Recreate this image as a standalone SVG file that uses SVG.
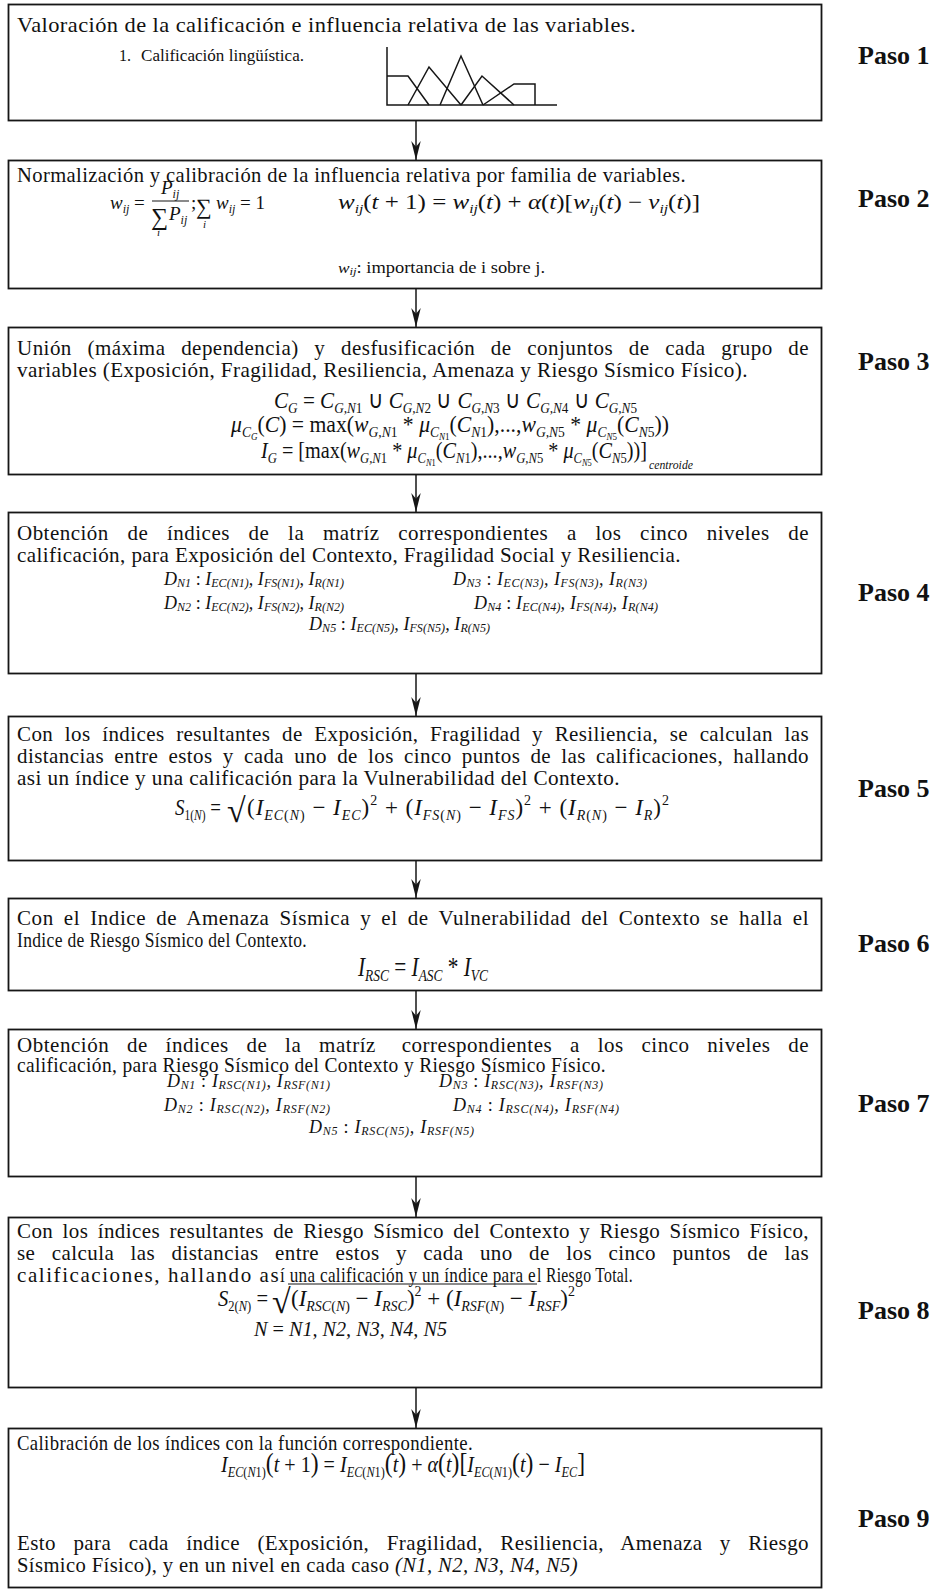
<svg xmlns="http://www.w3.org/2000/svg" width="937" height="1590" viewBox="0 0 937 1590">
<defs>
<style>
.box{fill:#fff;stroke:#161616;stroke-width:1.8}
.t{font-family:"Liberation Serif","Times New Roman",serif;font-size:21px;letter-spacing:0.4px;fill:#111}
.m{font-family:"Liberation Serif","Times New Roman",serif;font-style:italic;fill:#111}
.u{font-style:normal}
.paso{font-family:"Liberation Serif","Times New Roman",serif;font-weight:bold;font-size:26px;fill:#111}
.conn line{stroke:#161616;stroke-width:1.5}
.fig{fill:none;stroke:#161616;stroke-width:1.5}
.bar{stroke:#161616;stroke-width:1.2}
.sym{font-family:"Liberation Serif","Times New Roman",serif;fill:#111}
</style>
<marker id="ah" markerUnits="userSpaceOnUse" viewBox="0 0 20 10" refX="20" refY="5" markerWidth="19" markerHeight="10" orient="auto"><path d="M0,0 L20,5 L0,10 L6,5 Z" fill="#161616"/></marker>
</defs>
<rect width="937" height="1590" fill="#fff"/>

<g id="connectors" class="conn">
<line x1="416" y1="121" x2="416" y2="160" marker-end="url(#ah)"/>
<line x1="416" y1="289" x2="416" y2="327" marker-end="url(#ah)"/>
<line x1="416" y1="475" x2="416" y2="512" marker-end="url(#ah)"/>
<line x1="416" y1="674" x2="416" y2="716" marker-end="url(#ah)"/>
<line x1="416" y1="861" x2="416" y2="898" marker-end="url(#ah)"/>
<line x1="416" y1="991" x2="416" y2="1029" marker-end="url(#ah)"/>
<line x1="416" y1="1177" x2="416" y2="1217" marker-end="url(#ah)"/>
<line x1="416" y1="1388" x2="416" y2="1428" marker-end="url(#ah)"/>
</g>

<g id="paso1">
<rect class="box" x="8.5" y="4.5" width="813" height="116"/>
<text class="t" x="17" y="32" textLength="619" lengthAdjust="spacingAndGlyphs">Valoración de la calificación e influencia relativa de las variables.</text>
<text class="t" style="font-size:16px;letter-spacing:0" x="119" y="61">1.<tspan x="141" textLength="163" lengthAdjust="spacingAndGlyphs">Calificación lingüística.</tspan></text>
<g class="fig">
<polyline points="387,47 387,105 557,105"/>
<polyline points="387,76 408,76 429,105"/>
<polyline points="408,105 429,67 461,105"/>
<polyline points="440,105 461,56 483,105"/>
<polyline points="461,105 482,76 514,105"/>
<polyline points="483,105 514,84 535,84 535,105"/>
</g>
<text class="paso" x="858" y="64">Paso 1</text>
</g>

<g id="paso2">
<rect class="box" x="8.5" y="160.5" width="813" height="128"/>
<text class="t" x="17" y="182" textLength="669" lengthAdjust="spacingAndGlyphs">Normalización y calibración de la influencia relativa por familia de variables.</text>
<text class="m" font-size="19" x="110" y="209">w<tspan font-size="12" dy="4">ij</tspan><tspan class="u" dy="-4"> =</tspan></text>
<text class="m" font-size="19" x="161" y="194">P<tspan font-size="12" dy="4">ij</tspan></text>
<line class="bar" x1="152" y1="201" x2="189" y2="201"/>
<text class="sym" font-size="24" x="151" y="225">∑</text>
<text class="m" font-size="19" x="169" y="220">P<tspan font-size="12" dy="4">ij</tspan></text>
<text class="m" font-size="11" x="157" y="236">i</text>
<text class="sym" font-size="19" x="191" y="209">;</text>
<text class="sym" font-size="22" x="196" y="214">∑</text>
<text class="m" font-size="11" x="203" y="228">i</text>
<text class="m" font-size="19" x="216" y="209">w<tspan font-size="12" dy="4">ij</tspan><tspan class="u" dy="-4"> = 1</tspan></text>
<text class="m" x="338" y="209" font-size="21" textLength="362" lengthAdjust="spacingAndGlyphs">w<tspan font-size="13" dy="4">ij</tspan><tspan class="u" dy="-4">(</tspan>t<tspan class="u"> + 1) = </tspan>w<tspan font-size="13" dy="4">ij</tspan><tspan class="u" dy="-4">(</tspan>t<tspan class="u">) + </tspan>α<tspan class="u">(</tspan>t<tspan class="u">)[</tspan>w<tspan font-size="13" dy="4">ij</tspan><tspan class="u" dy="-4">(</tspan>t<tspan class="u">) − </tspan>v<tspan font-size="13" dy="4">ij</tspan><tspan class="u" dy="-4">(</tspan>t<tspan class="u">)]</tspan></text>
<text class="m" x="338" y="273" font-size="15" textLength="207" lengthAdjust="spacingAndGlyphs">w<tspan font-size="11" dy="2">ij</tspan><tspan class="u" font-size="16" dy="-2">: importancia de i sobre j.</tspan></text>
<text class="paso" x="858" y="207">Paso 2</text>
</g>

<g id="paso3">
<rect class="box" x="8.5" y="327.5" width="813" height="147"/>
<text class="t" x="17" y="355" textLength="792" lengthAdjust="spacing" word-spacing="10">Unión (máxima dependencia) y desfusificación de conjuntos de cada grupo de</text>
<text class="t" x="17" y="377" textLength="731" lengthAdjust="spacingAndGlyphs">variables (Exposición, Fragilidad, Resiliencia, Amenaza y Riesgo Sísmico Físico).</text>
<text class="m" x="274" y="408" font-size="24" textLength="363" lengthAdjust="spacingAndGlyphs">C<tspan font-size="15" dy="5">G</tspan><tspan class="u" dy="-5"> = </tspan>C<tspan font-size="15" dy="5">G,N</tspan><tspan font-size="15" class="u">1</tspan><tspan class="u" dy="-5"> ∪ </tspan>C<tspan font-size="15" dy="5">G,N</tspan><tspan font-size="15" class="u">2</tspan><tspan class="u" dy="-5"> ∪ </tspan>C<tspan font-size="15" dy="5">G,N</tspan><tspan font-size="15" class="u">3</tspan><tspan class="u" dy="-5"> ∪ </tspan>C<tspan font-size="15" dy="5">G,N</tspan><tspan font-size="15" class="u">4</tspan><tspan class="u" dy="-5"> ∪ </tspan>C<tspan font-size="15" dy="5">G,N</tspan><tspan font-size="15" class="u">5</tspan></text>
<text class="m" x="231" y="432" font-size="24" textLength="438" lengthAdjust="spacingAndGlyphs">μ<tspan font-size="15" dy="5">C</tspan><tspan font-size="10" dy="3">G</tspan><tspan class="u" dy="-8">(</tspan>C<tspan class="u">) = max(</tspan>w<tspan font-size="15" dy="5">G,N</tspan><tspan font-size="15" class="u">1</tspan><tspan class="u" dy="-5"> * </tspan>μ<tspan font-size="15" dy="5">C</tspan><tspan font-size="10" dy="3">N</tspan><tspan font-size="10" class="u">1</tspan><tspan class="u" dy="-8">(</tspan>C<tspan font-size="15" dy="5">N</tspan><tspan font-size="15" class="u">1</tspan><tspan class="u" dy="-5">),...,</tspan>w<tspan font-size="15" dy="5">G,N</tspan><tspan font-size="15" class="u">5</tspan><tspan class="u" dy="-5"> * </tspan>μ<tspan font-size="15" dy="5">C</tspan><tspan font-size="10" dy="3">N</tspan><tspan font-size="10" class="u">5</tspan><tspan class="u" dy="-8">(</tspan>C<tspan font-size="15" dy="5">N</tspan><tspan font-size="15" class="u">5</tspan><tspan class="u" dy="-5">))</tspan></text>
<text class="m" x="261" y="458" font-size="24" textLength="386" lengthAdjust="spacingAndGlyphs">I<tspan font-size="15" dy="5">G</tspan><tspan class="u" dy="-5"> = [max(</tspan>w<tspan font-size="15" dy="5">G,N</tspan><tspan font-size="15" class="u">1</tspan><tspan class="u" dy="-5"> * </tspan>μ<tspan font-size="15" dy="5">C</tspan><tspan font-size="10" dy="3">N</tspan><tspan font-size="10" class="u">1</tspan><tspan class="u" dy="-8">(</tspan>C<tspan font-size="15" dy="5">N</tspan><tspan font-size="15" class="u">1</tspan><tspan class="u" dy="-5">),...,</tspan>w<tspan font-size="15" dy="5">G,N</tspan><tspan font-size="15" class="u">5</tspan><tspan class="u" dy="-5"> * </tspan>μ<tspan font-size="15" dy="5">C</tspan><tspan font-size="10" dy="3">N</tspan><tspan font-size="10" class="u">5</tspan><tspan class="u" dy="-8">(</tspan>C<tspan font-size="15" dy="5">N</tspan><tspan font-size="15" class="u">5</tspan><tspan class="u" dy="-5">))]</tspan></text>
<text class="m" x="649" y="469" font-size="12" textLength="44" lengthAdjust="spacingAndGlyphs">centroide</text>
<text class="paso" x="858" y="370">Paso 3</text>
</g>

<g id="paso4">
<rect class="box" x="8.5" y="512.5" width="813" height="161"/>
<text class="t" x="17" y="540" textLength="792" lengthAdjust="spacing" word-spacing="13">Obtención de índices de la matríz correspondientes a los cinco niveles de</text>
<text class="t" x="17" y="562" textLength="664" lengthAdjust="spacingAndGlyphs">calificación, para Exposición del Contexto, Fragilidad Social y Resiliencia.</text>
<text class="m" x="164" y="585" font-size="18" textLength="180" lengthAdjust="spacing">D<tspan font-size="12" dy="2">N1</tspan><tspan class="u" dy="-2">  :  </tspan>I<tspan font-size="12" dy="2">EC(N1)</tspan><tspan dy="-2">, I</tspan><tspan font-size="12" dy="2">FS(N1)</tspan><tspan dy="-2">, I</tspan><tspan font-size="12" dy="2">R(N1)</tspan></text>
<text class="m" x="453" y="585" font-size="18" textLength="194" lengthAdjust="spacing">D<tspan font-size="12" dy="2">N3</tspan><tspan class="u" dy="-2">  :  </tspan>I<tspan font-size="12" dy="2">EC(N3)</tspan><tspan dy="-2">, I</tspan><tspan font-size="12" dy="2">FS(N3)</tspan><tspan dy="-2">, I</tspan><tspan font-size="12" dy="2">R(N3)</tspan></text>
<text class="m" x="164" y="609" font-size="18" textLength="180" lengthAdjust="spacing">D<tspan font-size="12" dy="2">N2</tspan><tspan class="u" dy="-2">  :  </tspan>I<tspan font-size="12" dy="2">EC(N2)</tspan><tspan dy="-2">, I</tspan><tspan font-size="12" dy="2">FS(N2)</tspan><tspan dy="-2">, I</tspan><tspan font-size="12" dy="2">R(N2)</tspan></text>
<text class="m" x="474" y="609" font-size="18" textLength="184" lengthAdjust="spacing">D<tspan font-size="12" dy="2">N4</tspan><tspan class="u" dy="-2">  :  </tspan>I<tspan font-size="12" dy="2">EC(N4)</tspan><tspan dy="-2">, I</tspan><tspan font-size="12" dy="2">FS(N4)</tspan><tspan dy="-2">, I</tspan><tspan font-size="12" dy="2">R(N4)</tspan></text>
<text class="m" x="309" y="630" font-size="18" textLength="181" lengthAdjust="spacing">D<tspan font-size="12" dy="2">N5</tspan><tspan class="u" dy="-2">  :  </tspan>I<tspan font-size="12" dy="2">EC(N5)</tspan><tspan dy="-2">, I</tspan><tspan font-size="12" dy="2">FS(N5)</tspan><tspan dy="-2">, I</tspan><tspan font-size="12" dy="2">R(N5)</tspan></text>
<text class="paso" x="858" y="601">Paso 4</text>
</g>

<g id="paso5">
<rect class="box" x="8.5" y="716.5" width="813" height="144"/>
<text class="t" x="17" y="741" textLength="792" lengthAdjust="spacing" word-spacing="6">Con los índices resultantes de Exposición, Fragilidad y Resiliencia, se calculan las</text>
<text class="t" x="17" y="763" textLength="792" lengthAdjust="spacing" word-spacing="4.5">distancias entre estos y cada uno de los cinco puntos de las calificaciones, hallando</text>
<text class="t" x="17" y="785" textLength="603" lengthAdjust="spacingAndGlyphs">asi un índice y una calificación para la Vulnerabilidad del Contexto.</text>
<text class="m" x="175" y="815" font-size="23" textLength="46" lengthAdjust="spacingAndGlyphs">S<tspan font-size="14" dy="5" class="u">1(</tspan><tspan font-size="14">N</tspan><tspan font-size="14" class="u">)</tspan><tspan class="u" dy="-5"> =</tspan></text>
<text class="sym" x="227" y="822" font-size="34">√</text>
<text class="m" x="247" y="815" font-size="23" textLength="422" lengthAdjust="spacing"><tspan class="u">(</tspan>I<tspan font-size="14" dy="5">EC</tspan><tspan font-size="14" class="u">(</tspan><tspan font-size="14">N</tspan><tspan font-size="14" class="u">)</tspan><tspan class="u" dy="-5"> − </tspan>I<tspan font-size="14" dy="5">EC</tspan><tspan class="u" dy="-5">)</tspan><tspan class="u" font-size="14" dy="-10">2</tspan><tspan class="u" dy="10"> + (</tspan>I<tspan font-size="14" dy="5">FS</tspan><tspan font-size="14" class="u">(</tspan><tspan font-size="14">N</tspan><tspan font-size="14" class="u">)</tspan><tspan class="u" dy="-5"> − </tspan>I<tspan font-size="14" dy="5">FS</tspan><tspan class="u" dy="-5">)</tspan><tspan class="u" font-size="14" dy="-10">2</tspan><tspan class="u" dy="10"> + (</tspan>I<tspan font-size="14" dy="5">R</tspan><tspan font-size="14" class="u">(</tspan><tspan font-size="14">N</tspan><tspan font-size="14" class="u">)</tspan><tspan class="u" dy="-5"> − </tspan>I<tspan font-size="14" dy="5">R</tspan><tspan class="u" dy="-5">)</tspan><tspan class="u" font-size="14" dy="-10">2</tspan></text>
<text class="paso" x="858" y="797">Paso 5</text>
</g>

<g id="paso6">
<rect class="box" x="8.5" y="898.5" width="813" height="92"/>
<text class="t" x="17" y="925" textLength="792" lengthAdjust="spacing" word-spacing="4.3">Con el Indice de Amenaza Sísmica y el de Vulnerabilidad del Contexto se halla el</text>
<text class="t" x="17" y="947" textLength="290" lengthAdjust="spacingAndGlyphs">Indice de Riesgo Sísmico del Contexto.</text>
<text class="m" x="358" y="976" font-size="27" textLength="130" lengthAdjust="spacingAndGlyphs">I<tspan font-size="17" dy="5">RSC</tspan><tspan class="u" dy="-5"> = </tspan>I<tspan font-size="17" dy="5">ASC</tspan><tspan class="u" dy="-5"> * </tspan>I<tspan font-size="17" dy="5">VC</tspan></text>
<text class="paso" x="858" y="952">Paso 6</text>
</g>

<g id="paso7">
<rect class="box" x="8.5" y="1029.5" width="813" height="147"/>
<text class="t" x="17" y="1052" textLength="792" lengthAdjust="spacing" word-spacing="12">Obtención de índices de la matríz <tspan dx="8">correspondientes a los cinco niveles de</tspan></text>
<text class="t" x="17" y="1072" textLength="589" lengthAdjust="spacingAndGlyphs">calificación, para Riesgo Sísmico del Contexto y Riesgo Sísmico Físico.</text>
<text class="m" x="167" y="1087" font-size="18" textLength="163" lengthAdjust="spacing">D<tspan font-size="12" dy="2">N1</tspan><tspan class="u" dy="-2">  :  </tspan>I<tspan font-size="12" dy="2">RSC(N1)</tspan><tspan dy="-2">, I</tspan><tspan font-size="12" dy="2">RSF(N1)</tspan></text>
<text class="m" x="439" y="1087" font-size="18" textLength="164" lengthAdjust="spacing">D<tspan font-size="12" dy="2">N3</tspan><tspan class="u" dy="-2">  :  </tspan>I<tspan font-size="12" dy="2">RSC(N3)</tspan><tspan dy="-2">, I</tspan><tspan font-size="12" dy="2">RSF(N3)</tspan></text>
<text class="m" x="164" y="1111" font-size="18" textLength="166" lengthAdjust="spacing">D<tspan font-size="12" dy="2">N2</tspan><tspan class="u" dy="-2">  :  </tspan>I<tspan font-size="12" dy="2">RSC(N2)</tspan><tspan dy="-2">, I</tspan><tspan font-size="12" dy="2">RSF(N2)</tspan></text>
<text class="m" x="453" y="1111" font-size="18" textLength="166" lengthAdjust="spacing">D<tspan font-size="12" dy="2">N4</tspan><tspan class="u" dy="-2">  :  </tspan>I<tspan font-size="12" dy="2">RSC(N4)</tspan><tspan dy="-2">, I</tspan><tspan font-size="12" dy="2">RSF(N4)</tspan></text>
<text class="m" x="309" y="1133" font-size="18" textLength="165" lengthAdjust="spacing">D<tspan font-size="12" dy="2">N5</tspan><tspan class="u" dy="-2">  :  </tspan>I<tspan font-size="12" dy="2">RSC(N5)</tspan><tspan dy="-2">, I</tspan><tspan font-size="12" dy="2">RSF(N5)</tspan></text>
<text class="paso" x="858" y="1112">Paso 7</text>
</g>

<g id="paso8">
<rect class="box" x="8.5" y="1217.5" width="813" height="170"/>
<text class="t" x="17" y="1238" textLength="792" lengthAdjust="spacing" word-spacing="3.7">Con los índices resultantes de Riesgo Sísmico del Contexto y Riesgo Sísmico Físico,</text>
<text class="t" x="17" y="1260" textLength="792" lengthAdjust="spacing" word-spacing="10.8">se calcula las distancias entre estos y cada uno de los cinco puntos de las</text>
<text class="t" x="17" y="1282" textLength="262" lengthAdjust="spacing">calificaciones, hallando as</text>
<text class="t" x="280" y="1282" textLength="256" lengthAdjust="spacingAndGlyphs">í una calificación y un índice para e</text>
<text class="t" x="537" y="1282" textLength="96" lengthAdjust="spacingAndGlyphs">l Riesgo Total.</text>
<text class="m" x="218" y="1306" font-size="23" textLength="50" lengthAdjust="spacingAndGlyphs">S<tspan font-size="14" dy="5" class="u">2(</tspan><tspan font-size="14">N</tspan><tspan font-size="14" class="u">)</tspan><tspan class="u" dy="-5"> =</tspan></text>
<text class="sym" x="272" y="1313" font-size="34">√</text>
<line class="bar" x1="288" y1="1284" x2="537" y2="1284"/>
<text class="m" x="291" y="1306" font-size="23" textLength="284" lengthAdjust="spacingAndGlyphs"><tspan class="u">(</tspan>I<tspan font-size="14" dy="5">RSC</tspan><tspan font-size="14" class="u">(</tspan><tspan font-size="14">N</tspan><tspan font-size="14" class="u">)</tspan><tspan class="u" dy="-5"> − </tspan>I<tspan font-size="14" dy="5">RSC</tspan><tspan class="u" dy="-5">)</tspan><tspan class="u" font-size="14" dy="-10">2</tspan><tspan class="u" dy="10"> + (</tspan>I<tspan font-size="14" dy="5">RSF</tspan><tspan font-size="14" class="u">(</tspan><tspan font-size="14">N</tspan><tspan font-size="14" class="u">)</tspan><tspan class="u" dy="-5"> − </tspan>I<tspan font-size="14" dy="5">RSF</tspan><tspan class="u" dy="-5">)</tspan><tspan class="u" font-size="14" dy="-10">2</tspan></text>
<text class="m" x="254" y="1336" font-size="20" textLength="193" lengthAdjust="spacingAndGlyphs">N <tspan class="u">=</tspan> N1, N2, N3, N4, N5</text>
<text class="paso" x="858" y="1319">Paso 8</text>
</g>

<g id="paso9">
<rect class="box" x="8.5" y="1428.5" width="813" height="159"/>
<text class="t" x="17" y="1450" textLength="456" lengthAdjust="spacingAndGlyphs">Calibración de los índices con la función correspondiente.</text>
<text class="m" x="221" y="1472" font-size="23" textLength="364" lengthAdjust="spacingAndGlyphs">I<tspan font-size="14" dy="5">EC</tspan><tspan font-size="14" class="u">(</tspan><tspan font-size="14">N</tspan><tspan font-size="14" class="u">1)</tspan><tspan class="u" font-size="27" dy="-5">(</tspan>t<tspan class="u"> + 1</tspan><tspan class="u" font-size="27">)</tspan><tspan class="u"> = </tspan>I<tspan font-size="14" dy="5">EC</tspan><tspan font-size="14" class="u">(</tspan><tspan font-size="14">N</tspan><tspan font-size="14" class="u">1)</tspan><tspan class="u" font-size="27" dy="-5">(</tspan>t<tspan class="u" font-size="27">)</tspan><tspan class="u"> + </tspan>α<tspan class="u" font-size="27">(</tspan>t<tspan class="u" font-size="27">)[</tspan>I<tspan font-size="14" dy="5">EC</tspan><tspan font-size="14" class="u">(</tspan><tspan font-size="14">N</tspan><tspan font-size="14" class="u">1)</tspan><tspan class="u" font-size="27" dy="-5">(</tspan>t<tspan class="u" font-size="27">)</tspan><tspan class="u"> − </tspan>I<tspan font-size="14" dy="5">EC</tspan><tspan class="u" font-size="27" dy="-5">]</tspan></text>
<text class="t" x="17" y="1550" textLength="792" lengthAdjust="spacing" word-spacing="11.7">Esto para cada índice (Exposición, Fragilidad, Resiliencia, Amenaza y Riesgo</text>
<text class="t" x="17" y="1572" textLength="561" lengthAdjust="spacingAndGlyphs">Sísmico Físico), y en un nivel en cada caso <tspan font-style="italic">(N1, N2, N3, N4, N5)</tspan></text>
<text class="paso" x="858" y="1527">Paso 9</text>
</g>
</svg>
